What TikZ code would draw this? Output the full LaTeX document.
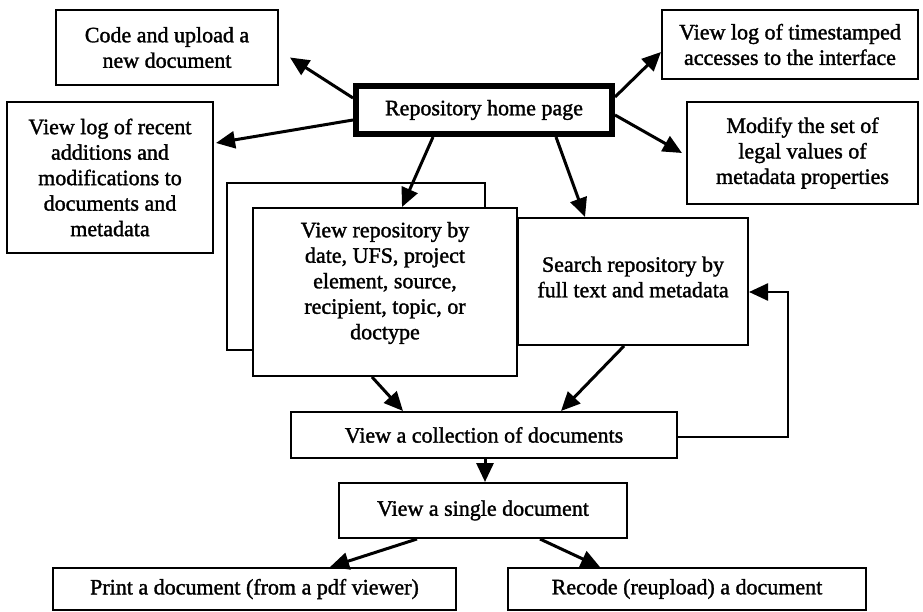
\documentclass[tikz,border=0pt]{standalone}
\usepackage{fontspec}
\setmainfont{Liberation Serif}[FakeBold=1.5]
\usetikzlibrary{arrows.meta}
\begin{document}
\begin{tikzpicture}[x=1pt,y=-1pt,
  box/.style={draw, line width=2pt, fill=white, align=center, inner sep=0pt, font=\fontsize{22}{25.5}\selectfont},
  homebox/.style={box, line width=6pt},
  txt/.style={align=center, inner sep=0pt, font=\fontsize{22}{25.5}\selectfont},
  arr/.style={line width=3pt, -{Triangle[length=19pt,width=17pt]}},
  fback/.style={line width=2.5pt, -{Triangle[length=19pt,width=17pt]}}]
\useasboundingbox (0,0) rectangle (923,612);
% boxes
\node[box, minimum width=222pt, minimum height=75pt] (code) at (167,47.5) {Code and upload a\\new document};
\node[box, minimum width=206pt, minimum height=151pt] (recent) at (110,177.5) {View log of recent\\additions and\\modifications to\\documents and\\metadata};
\node[homebox, minimum width=256pt, minimum height=48pt] (home) at (484,110) {Repository home page};
\node[box, minimum width=256pt, minimum height=69pt] (stamp) at (790,44.5) {View log of timestamped\\accesses to the interface};
\node[box, minimum width=231pt, minimum height=102pt] (modify) at (802.5,153) {Modify the set of\\legal values of\\metadata properties};
\node[box, minimum width=258pt, minimum height=167pt] (back) at (356,266.5) {};
\node[box, minimum width=264pt, minimum height=168pt] (vr) at (385,292) {};
\node[txt] (vrt) at (385,283) {View repository by\\date, UFS, project\\element, source,\\recipient, topic, or\\doctype};
\node[box, minimum width=230pt, minimum height=127pt] (search) at (633,281.5) {};
\node[txt] (searcht) at (633,277) {Search repository by\\full text and metadata};
\node[box, minimum width=386pt, minimum height=46pt] (coll) at (484,435) {View a collection of documents};
\node[box, minimum width=288pt, minimum height=55pt] (single) at (483,510.5) {View a single document};
\node[box, minimum width=403pt, minimum height=42pt] (print) at (254.5,589) {Print a document (from a pdf viewer)};
\node[box, minimum width=358pt, minimum height=42pt] (recode) at (687,589) {Recode (reupload) a document};
% arrows
\draw[arr] ([yshift=12pt]home.west) -- ([xshift=11pt,yshift=-10pt]code.east);
\draw[arr] ([yshift=-10pt]home.west) -- ([xshift=2pt,yshift=34.5pt]recent.east);
\draw[arr] ([xshift=-51pt]home.south) -- ([xshift=17pt]vr.north);
\draw[arr] ([yshift=13pt]home.east) -- ([yshift=-7.5pt]stamp.west);
\draw[arr] ([yshift=-5pt]home.east) -- ([xshift=-4pt]modify.west);
\draw[arr] ([xshift=72pt]home.south) -- ([xshift=-48pt]search.north);
\draw[arr] ([xshift=-13pt]vr.south) -- ([xshift=-81pt]coll.north);
\draw[arr] ([xshift=-9pt]search.south) -- ([xshift=77pt]coll.north);
\draw[arr] ([xshift=1pt]coll.south) -- ([xshift=2pt]single.north);
\draw[fback] ([yshift=-2pt]coll.east) -- ([xshift=110pt,yshift=-2pt]coll.east) |- ([yshift=-10.5pt]search.east);
\draw[arr] ([xshift=-66pt]single.south) -- ([xshift=75.5pt]print.north);
\draw[arr] ([xshift=57pt]single.south) -- ([xshift=-87pt]recode.north);
\end{tikzpicture}
\end{document}
